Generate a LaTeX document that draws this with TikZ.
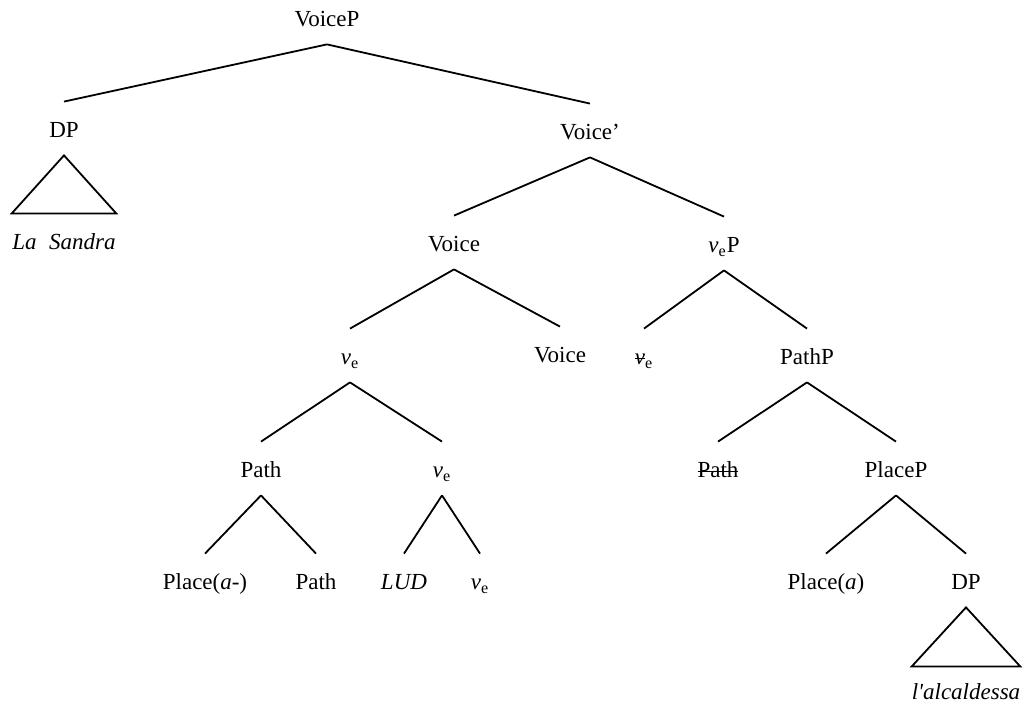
\documentclass[tikz,border=0pt]{standalone}
\usepackage{fontspec}
\setmainfont{Liberation Serif}
\newsavebox{\strikebox}
\newcommand{\struck}[1]{\sbox{\strikebox}{#1}\rlap{\rule[0.27em]{\wd\strikebox}{0.055em}}\usebox{\strikebox}}
\newcommand{\vsub}{\textit{v}\textsubscript{e}}
\newcommand{\vstruck}{\struck{\textit{v}}\textsubscript{e}}

\begin{document}
\begin{tikzpicture}[x=0.5pt,y=-0.5pt,font=\fontsize{11.5}{14}\selectfont,
  cat/.style={anchor=base,inner xsep=0pt,inner ysep=5.5pt,text height=12.5pt,text depth=3pt},
  branch/.style={line width=0.9pt,line join=miter}]
\useasboundingbox (0,0) rectangle (1023,704);
% categories, row by row
\node[cat] (voiceP) at (327,27) {VoiceP};
\node[cat] (dp) at (64,138) {DP};
\node[cat] (voiceBar) at (590,140) {Voice’};
\node[cat] (sandra) at (64,250) {\textit{La\hspace{0.55em}Sandra}};
\node[cat] (voice) at (454,252) {Voice};
\node[cat] (veP) at (724,253) {\vsub P};
\node[cat] (veA) at (350,365) {\vsub};
\node[cat] (voiceH) at (560,363) {Voice};
\node[cat] (veCopy) at (644,365) {\vstruck};
\node[cat] (pathP) at (807,365) {PathP};
\node[cat] (path) at (261,478) {Path};
\node[cat] (veB) at (442,478) {\vsub};
\node[cat] (pathCopy) at (718,478) {\struck{Path}};
\node[cat] (placeP) at (896,478) {PlaceP};
\node[cat] (placeA) at (205,590) {Place(\textit{a}-)};
\node[cat] (pathH) at (316,590) {Path};
\node[cat] (lud) at (404,590) {\textit{LUD}};
\node[cat] (veC) at (480,590) {\vsub};
\node[cat] (placeB) at (826,590) {Place(\textit{a})};
\node[cat] (dpB) at (966,590) {DP};
\node[cat] (alc) at (966,700) {\textit{l\textquotesingle alcaldessa}};

% branches
\draw[branch] (voiceP.south) -- (dp.north) (voiceP.south) -- (voiceBar.north);
\draw[branch] (voiceBar.south) -- (voice.north) (voiceBar.south) -- (veP.north);
\draw[branch] (voice.south) -- (veA.north) (voice.south) -- (voiceH.north);
\draw[branch] (veP.south) -- (veCopy.north) (veP.south) -- (pathP.north);
\draw[branch] (veA.south) -- (path.north) (veA.south) -- (veB.north);
\draw[branch] (pathP.south) -- (pathCopy.north) (pathP.south) -- (placeP.north);
\draw[branch] (path.south) -- (placeA.north) (path.south) -- (pathH.north);
\draw[branch] (veB.south) -- (lud.north) (veB.south) -- (veC.north);
\draw[branch] (placeP.south) -- (placeB.north) (placeP.south) -- (dpB.north);

% triangles over the DPs
\draw[branch] (dp.south) -- ([xshift=-26.2pt]sandra.north) -- ([xshift=26.2pt]sandra.north) -- cycle;
\draw[branch] (dpB.south) -- ([xshift=-27.2pt,yshift=-1.5pt]alc.north) -- ([xshift=27.2pt,yshift=-1.5pt]alc.north) -- cycle;
\end{tikzpicture}
\end{document}
